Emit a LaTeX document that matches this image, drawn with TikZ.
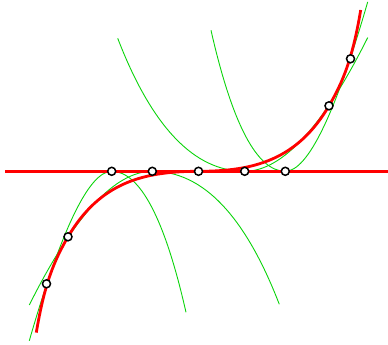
\documentclass[tikz,border=0pt]{standalone}
\usetikzlibrary{calc}
\definecolor{parabgreen}{RGB}{10,212,10}
\begin{document}
\begin{tikzpicture}[x=1pt,y=-1pt,
  redline/.style={line width=2.8pt, red, line cap=butt},
  greenline/.style={line width=0.9pt, parabgreen},
  dot/.style={circle, draw=black, fill=white, line width=1.5pt, inner sep=0pt, minimum size=8pt}]
\useasboundingbox (0,0) rectangle (388,345);
% parabola vertices on the axis
\coordinate (VA) at (111.7,171.3);
\coordinate (VB) at (152.3,171.3);
\coordinate (O)  at (198.5,171.3);
\coordinate (VC) at (244.7,171.3);
\coordinate (VD) at (285.3,171.3);
% end points
\coordinate (A1) at (29.3,340.7);  \coordinate (A2) at (186,312.3);
\coordinate (B1) at (29.3,305);    \coordinate (B2) at (279.3,304.3);
\coordinate (C1) at (367.7,37.6);  \coordinate (C2) at (117.7,38.3);
\coordinate (D1) at (367.7,1.9);   \coordinate (D2) at (211,30.3);
% quadratic control points (on the axis)
\coordinate (QA1) at (78.2,171.3);  \coordinate (QA2) at (154,171.3);
\coordinate (QB1) at (96.1,171.3);  \coordinate (QB2) at (228,171.3);
\coordinate (QC1) at (300.9,171.3); \coordinate (QC2) at (169,171.3);
\coordinate (QD1) at (318.8,171.3); \coordinate (QD2) at (243,171.3);
% green parabolas
\foreach \v/\e/\q in {VA/A1/QA1,VA/A2/QA2,VB/B1/QB1,VB/B2/QB2,VC/C1/QC1,VC/C2/QC2,VD/D1/QD1,VD/D2/QD2}{
  \draw[greenline] (\v) .. controls ($(\v)!2/3!(\q)$) and ($(\e)!2/3!(\q)$) .. (\e);
}
% axis
\coordinate (L) at (5,171.3);
\coordinate (R) at (388,171.3);
\draw[redline] (L) -- (R);
% red curve
\coordinate (K1) at (36.3,332.6);
\coordinate (K2) at (68,236.8);
\coordinate (K3) at (329,105.8);
\coordinate (K4) at (360.7,10);
\draw[redline] (K1) .. controls (44.3,284.6) and (54,260.6) .. (K2)
  .. controls (100,182.4) and (143.5,171.3) .. (O)
  .. controls (253.5,171.3) and (297,160.2) .. (K3)
  .. controls (343,82) and (352.7,58) .. (K4);
% points
\node[dot] (p1) at (VA) {};
\node[dot] (p2) at (VB) {};
\node[dot] (p3) at (O) {};
\node[dot] (p4) at (VC) {};
\node[dot] (p5) at (VD) {};
\node[dot] (p6) at (46.5,283.8) {};
\node[dot] (p7) at (K2) {};
\node[dot] (p8) at (K3) {};
\node[dot] (p9) at (350.5,58.8) {};
\end{tikzpicture}
\end{document}
